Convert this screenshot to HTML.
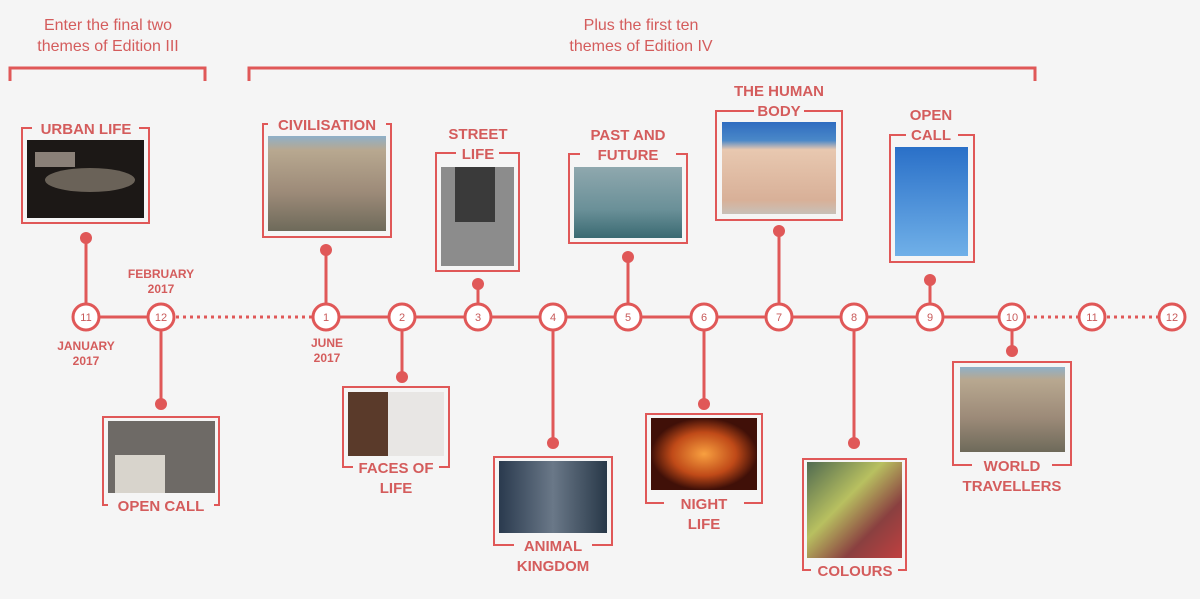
<!DOCTYPE html>
<html><head><meta charset="utf-8"><style>
html,body{margin:0;padding:0;background:#f5f5f5;width:1200px;height:599px;overflow:hidden}
svg{display:block}
text{font-family:"Liberation Sans",sans-serif;fill:#d45c5c;font-weight:bold;text-anchor:middle}
.lb{font-size:15px}
.dt{font-size:12px}
.n{font-size:11px;font-weight:normal;fill:#c85a5a}
</style></head><body>
<svg width="1200" height="599" viewBox="0 0 1200 599" xmlns="http://www.w3.org/2000/svg">
<defs>
<linearGradient id="civ" x1="0" y1="0" x2="0" y2="1"><stop offset="0" stop-color="#8fb0c8"/><stop offset="0.15" stop-color="#b8a890"/><stop offset="0.6" stop-color="#9c8a78"/><stop offset="1" stop-color="#6e6a5a"/></linearGradient>
<linearGradient id="hb" x1="0" y1="0" x2="0" y2="1"><stop offset="0" stop-color="#2f6cc0"/><stop offset="0.2" stop-color="#4a88c8"/><stop offset="0.3" stop-color="#e8c8b0"/><stop offset="0.85" stop-color="#d8b098"/><stop offset="1" stop-color="#c8c0b8"/></linearGradient>
<linearGradient id="oc9" x1="0" y1="0" x2="0" y2="1"><stop offset="0" stop-color="#2a70c8"/><stop offset="1" stop-color="#70b0e8"/></linearGradient>
<radialGradient id="night"><stop offset="0" stop-color="#f8a040"/><stop offset="0.6" stop-color="#c04a18"/><stop offset="1" stop-color="#401008"/></radialGradient>
<linearGradient id="col" x1="0" y1="0" x2="1" y2="1"><stop offset="0" stop-color="#506a50"/><stop offset="0.4" stop-color="#b8c060"/><stop offset="0.7" stop-color="#8a4040"/><stop offset="1" stop-color="#c04040"/></linearGradient>
<linearGradient id="past" x1="0" y1="0" x2="0" y2="1"><stop offset="0" stop-color="#8fa8ae"/><stop offset="0.6" stop-color="#6a9098"/><stop offset="1" stop-color="#3a6a72"/></linearGradient>
<linearGradient id="ani" x1="0" y1="0" x2="1" y2="0"><stop offset="0" stop-color="#2a3a4e"/><stop offset="0.5" stop-color="#6a7888"/><stop offset="1" stop-color="#283848"/></linearGradient>
</defs>

<!-- headings -->
<text x="108" y="30" style="font-size:16px;font-weight:normal">Enter the final two</text>
<text x="108" y="51" style="font-size:16px;font-weight:normal">themes of Edition III</text>
<text x="641" y="30" style="font-size:16px;font-weight:normal">Plus the first ten</text>
<text x="641" y="51" style="font-size:16px;font-weight:normal">themes of Edition IV</text>
<g stroke="#e05858" stroke-width="3" fill="none">
<path d="M10 81 V68 H205 V81"/>
<path d="M249 81 V68 H1035 V81"/>
</g>

<!-- timeline -->
<g stroke="#e05858" stroke-width="3" fill="none">
<line x1="86" y1="317" x2="161" y2="317"/>
<line x1="326" y1="317" x2="1012" y2="317"/>
<line x1="176" y1="317" x2="312" y2="317" stroke-dasharray="3 4"/>
<line x1="1027" y1="317" x2="1078" y2="317" stroke-dasharray="3 4"/>
<line x1="1107" y1="317" x2="1158" y2="317" stroke-dasharray="3 4"/>
<!-- connectors -->
<line x1="86" y1="238" x2="86" y2="317"/>
<line x1="161" y1="317" x2="161" y2="404"/>
<line x1="326" y1="250" x2="326" y2="317"/>
<line x1="402" y1="317" x2="402" y2="377"/>
<line x1="478" y1="284" x2="478" y2="317"/>
<line x1="553" y1="317" x2="553" y2="443"/>
<line x1="628" y1="257" x2="628" y2="317"/>
<line x1="704" y1="317" x2="704" y2="404"/>
<line x1="779" y1="231" x2="779" y2="317"/>
<line x1="854" y1="317" x2="854" y2="443"/>
<line x1="930" y1="280" x2="930" y2="317"/>
<line x1="1012" y1="317" x2="1012" y2="351"/>
</g>
<g fill="#e05858">
<circle cx="86" cy="238" r="6"/><circle cx="161" cy="404" r="6"/><circle cx="326" cy="250" r="6"/>
<circle cx="402" cy="377" r="6"/><circle cx="478" cy="284" r="6"/><circle cx="553" cy="443" r="6"/>
<circle cx="628" cy="257" r="6"/><circle cx="704" cy="404" r="6"/><circle cx="779" cy="231" r="6"/>
<circle cx="854" cy="443" r="6"/><circle cx="930" cy="280" r="6"/><circle cx="1012" cy="351" r="6"/>
</g>
<g fill="#fff" stroke="#e05858" stroke-width="3">
<circle cx="86" cy="317" r="13"/><circle cx="161" cy="317" r="13"/><circle cx="326" cy="317" r="13"/>
<circle cx="402" cy="317" r="13"/><circle cx="478" cy="317" r="13"/><circle cx="553" cy="317" r="13"/>
<circle cx="628" cy="317" r="13"/><circle cx="704" cy="317" r="13"/><circle cx="779" cy="317" r="13"/>
<circle cx="854" cy="317" r="13"/><circle cx="930" cy="317" r="13"/><circle cx="1012" cy="317" r="13"/>
<circle cx="1092" cy="317" r="13"/><circle cx="1172" cy="317" r="13"/>
</g>
<g class="n">
<text class="n" x="86" y="321">11</text><text class="n" x="161" y="321">12</text><text class="n" x="326" y="321">1</text>
<text class="n" x="402" y="321">2</text><text class="n" x="478" y="321">3</text><text class="n" x="553" y="321">4</text>
<text class="n" x="628" y="321">5</text><text class="n" x="704" y="321">6</text><text class="n" x="779" y="321">7</text>
<text class="n" x="854" y="321">8</text><text class="n" x="930" y="321">9</text><text class="n" x="1012" y="321">10</text>
<text class="n" x="1092" y="321">11</text><text class="n" x="1172" y="321">12</text>
</g>
<text class="dt" x="86" y="350">JANUARY</text><text class="dt" x="86" y="365">2017</text>
<text class="dt" x="161" y="278">FEBRUARY</text><text class="dt" x="161" y="293">2017</text>
<text class="dt" x="327" y="347">JUNE</text><text class="dt" x="327" y="362">2017</text>

<!-- frames -->
<g fill="none" stroke="#e05858" stroke-width="2">
<rect x="22" y="128" width="127" height="95"/>
<rect x="103" y="417" width="116" height="88"/>
<rect x="263" y="124" width="128" height="113"/>
<rect x="436" y="153" width="83" height="118"/>
<rect x="343" y="387" width="106" height="80"/>
<rect x="569" y="154" width="118" height="89"/>
<rect x="494" y="457" width="118" height="88"/>
<rect x="716" y="111" width="126" height="109"/>
<rect x="646" y="414" width="116" height="89"/>
<rect x="803" y="459" width="103" height="111"/>
<rect x="890" y="135" width="84" height="127"/>
<rect x="953" y="362" width="118" height="103"/>
</g>
<!-- photos -->
<rect x="27" y="140" width="117" height="78" fill="#1c1816"/>
<rect x="35" y="152" width="40" height="15" fill="#8a8078"/>
<ellipse cx="90" cy="180" rx="45" ry="12" fill="#6a6258"/>
<rect x="108" y="421" width="107" height="72" fill="#6e6a66"/>
<rect x="115" y="455" width="50" height="38" fill="#d8d4cc"/>
<rect x="268" y="136" width="118" height="95" fill="url(#civ)"/>
<rect x="441" y="167" width="73" height="99" fill="#8c8c8c"/>
<rect x="455" y="167" width="40" height="55" fill="#3a3a3a"/>
<rect x="348" y="392" width="96" height="64" fill="#e8e6e4"/>
<rect x="348" y="392" width="40" height="64" fill="#5a3a2a"/>
<rect x="574" y="167" width="108" height="71" fill="url(#past)"/>
<rect x="499" y="461" width="108" height="72" fill="url(#ani)"/>
<rect x="722" y="122" width="114" height="92" fill="url(#hb)"/>
<rect x="651" y="418" width="106" height="72" fill="url(#night)"/>
<rect x="807" y="462" width="95" height="96" fill="url(#col)"/>
<rect x="895" y="147" width="73" height="109" fill="url(#oc9)"/>
<rect x="960" y="367" width="105" height="85" fill="url(#civ)"/>

<!-- labels -->
<g fill="#f5f5f5">
<rect x="32" y="118" width="107" height="20"/>
<rect x="108" y="495" width="106" height="20"/>
<rect x="268" y="114" width="118" height="20"/>
<rect x="456" y="143" width="43" height="20"/>
<rect x="353" y="457" width="86" height="20"/>
<rect x="580" y="144" width="96" height="20"/>
<rect x="514" y="535" width="78" height="20"/>
<rect x="754" y="101" width="50" height="20"/>
<rect x="664" y="493" width="80" height="20"/>
<rect x="811" y="560" width="87" height="20"/>
<rect x="906" y="125" width="52" height="20"/>
<rect x="972" y="455" width="80" height="20"/>
</g>
<text class="lb" x="86" y="134">URBAN LIFE</text>
<text class="lb" x="161" y="511">OPEN CALL</text>
<text class="lb" x="327" y="130">CIVILISATION</text>
<text class="lb" x="478" y="139">STREET</text><text class="lb" x="478" y="159">LIFE</text>
<text class="lb" x="396" y="473">FACES OF</text><text class="lb" x="396" y="493">LIFE</text>
<text class="lb" x="628" y="140">PAST AND</text><text class="lb" x="628" y="160">FUTURE</text>
<text class="lb" x="553" y="551">ANIMAL</text><text class="lb" x="553" y="571">KINGDOM</text>
<text class="lb" x="779" y="96">THE HUMAN</text><text class="lb" x="779" y="116">BODY</text>
<text class="lb" x="704" y="509">NIGHT</text><text class="lb" x="704" y="529">LIFE</text>
<text class="lb" x="855" y="576">COLOURS</text>
<text class="lb" x="931" y="120">OPEN</text><text class="lb" x="931" y="140">CALL</text>
<text class="lb" x="1012" y="471">WORLD</text><text class="lb" x="1012" y="491">TRAVELLERS</text>
</svg>
</body></html>
